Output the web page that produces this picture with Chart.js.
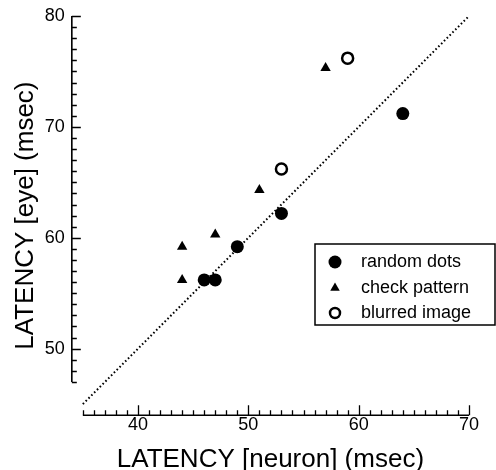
<!DOCTYPE html>
<html>
<head>
<meta charset="utf-8">
<script src="https://cdn.jsdelivr.net/npm/chart.js@4.4.1/dist/chart.umd.min.js"></script>
<style>
  body { margin: 0; background: #fff; }
  canvas { display: block; }
</style>
</head>
<body>
<canvas id="latencyChart" width="496" height="470"></canvas>
<script>
// values
const randomX = [46, 47, 49, 53, 64];
const randomY = [56.2, 56.2, 59.2, 62.2, 71.2];
const checkX = [44, 44, 47, 51, 57];
const checkY = [56.2, 59.2, 60.3, 64.3, 75.3];
const blurX = [53, 59];
const blurY = [66.2, 76.2];
const fitX = [35, 70];
const fitY = [45, 80];

const seriesNames = ['random dots', 'check pattern', 'blurred image'];
const xTicks = [40, 50, 60, 70];
const yTicks = [50, 60, 70, 80];
const xAxisRange = [35, 70];
const yAxisRange = [47, 80];

const fontFamily = '"Liberation Sans", Arial, Helvetica, sans-serif';

const toPoints = (xs, ys) => xs.map((x, i) => ({ x: x, y: ys[i] }));

// axes are drawn offset from the plot, with inward tick marks
const offsetAxes = {
    id: 'offsetAxes',
    afterDraw(chart) {
        const ctx = chart.ctx;
        const xs = chart.scales.x;
        const ys = chart.scales.y;
        const axisX = xs.getPixelForValue(xs.min);
        const axisY = ys.getPixelForValue(ys.min);
        ctx.save();
        ctx.strokeStyle = '#000';
        ctx.lineWidth = 1.6;
        ctx.beginPath();
        ctx.moveTo(axisX, ys.getPixelForValue(yAxisRange[0]));
        ctx.lineTo(axisX, ys.getPixelForValue(yAxisRange[1]));
        ctx.moveTo(xs.getPixelForValue(xAxisRange[0]), axisY);
        ctx.lineTo(xs.getPixelForValue(xAxisRange[1]), axisY);
        ctx.stroke();
        ctx.lineWidth = 1.3;
        ctx.beginPath();
        for (let v = yAxisRange[0]; v <= yAxisRange[1]; v++) {
            const py = Math.round(ys.getPixelForValue(v)) + 0.5;
            ctx.moveTo(axisX, py);
            ctx.lineTo(axisX + (v % 10 === 0 ? 9 : 5), py);
        }
        for (let v = xAxisRange[0]; v <= xAxisRange[1]; v++) {
            const px = Math.round(xs.getPixelForValue(v)) + 0.5;
            ctx.moveTo(px, axisY);
            ctx.lineTo(px, axisY - (v % 10 === 0 ? 10 : 5));
        }
        ctx.stroke();
        ctx.restore();
    }
};

// boxed legend sitting inside the plot
const boxLegend = {
    id: 'boxLegend',
    afterDatasetsDraw(chart) {
        const ctx = chart.ctx;
        ctx.save();
        ctx.fillStyle = '#fff';
        ctx.fillRect(315, 244, 180, 81);
        ctx.strokeStyle = '#000';
        ctx.lineWidth = 1.5;
        ctx.strokeRect(315, 244, 180, 81);
        const rows = [262, 288, 313];
        const sizes = [6.5, 5.5, 5];
        seriesNames.forEach((name, i) => {
            const ds = chart.data.datasets[i];
            ctx.fillStyle = ds.backgroundColor;
            ctx.strokeStyle = ds.borderColor;
            ctx.lineWidth = ds.borderWidth || 1;
            Chart.helpers.drawPoint(ctx, {
                pointStyle: ds.pointStyle,
                radius: sizes[i],
                borderWidth: ds.borderWidth,
                rotation: 0
            }, 335, rows[i]);
            ctx.fillStyle = '#000';
            ctx.font = '18px ' + fontFamily;
            ctx.textAlign = 'left';
            ctx.textBaseline = 'middle';
            ctx.fillText(name, 361, rows[i]);
        });
        ctx.restore();
    }
};

const ctx = document.getElementById('latencyChart').getContext('2d');
const latencyChart = new Chart(ctx, {
    type: 'scatter',
    data: {
        datasets: [{
            label: seriesNames[0],
            data: toPoints(randomX, randomY),
            pointStyle: 'circle',
            pointRadius: 6.5,
            backgroundColor: '#000',
            borderColor: '#000',
            borderWidth: 0,
        }, {
            label: seriesNames[1],
            data: toPoints(checkX, checkY),
            pointStyle: 'triangle',
            pointRadius: 6,
            backgroundColor: '#000',
            borderColor: '#000',
            borderWidth: 0,
        }, {
            label: seriesNames[2],
            data: toPoints(blurX, blurY),
            pointStyle: 'circle',
            pointRadius: 5.5,
            backgroundColor: '#fff',
            borderColor: '#000',
            borderWidth: 2.5,
        }, {
            label: 'fit',
            data: toPoints(fitX, fitY),
            showLine: true,
            pointRadius: 0,
            borderColor: '#000',
            borderWidth: 2,
            borderDash: [1.6, 2.4],
        }]
    },
    options: {
        responsive: false,
        animation: false,
        events: [],
        layout: {
            padding: { top: 14, right: 27, bottom: 0, left: 15 }
        },
        scales: {
            x: {
                type: 'linear',
                min: 34,
                max: 70,
                grid: { display: false, drawTicks: false },
                border: { display: false },
                afterBuildTicks: (scale) => { scale.ticks = xTicks.map(v => ({ value: v })); },
                ticks: {
                    autoSkip: false,
                    maxRotation: 0,
                    padding: 1,
                    color: '#000',
                    font: { family: fontFamily, size: 18, lineHeight: 1 }
                },
                title: {
                    display: true,
                    text: 'LATENCY [neuron] (msec)',
                    color: '#000',
                    padding: { top: 14, bottom: 0 },
                    font: { family: fontFamily, size: 26, lineHeight: 0.8 }
                }
            },
            y: {
                type: 'linear',
                min: 44,
                max: 80,
                grid: { display: false, drawTicks: false },
                border: { display: false },
                afterBuildTicks: (scale) => { scale.ticks = yTicks.map(v => ({ value: v })); },
                ticks: {
                    autoSkip: false,
                    padding: 7,
                    color: '#000',
                    font: { family: fontFamily, size: 18, lineHeight: 1 }
                },
                title: {
                    display: true,
                    text: 'LATENCY [eye] (msec)',
                    color: '#000',
                    padding: { top: 0, bottom: 2 },
                    font: { family: fontFamily, size: 26, lineHeight: 0.8 }
                }
            }
        },
        plugins: {
            legend: { display: false },
            tooltip: { enabled: false }
        }
    },
    plugins: [offsetAxes, boxLegend]
});
</script>
</body>
</html>
